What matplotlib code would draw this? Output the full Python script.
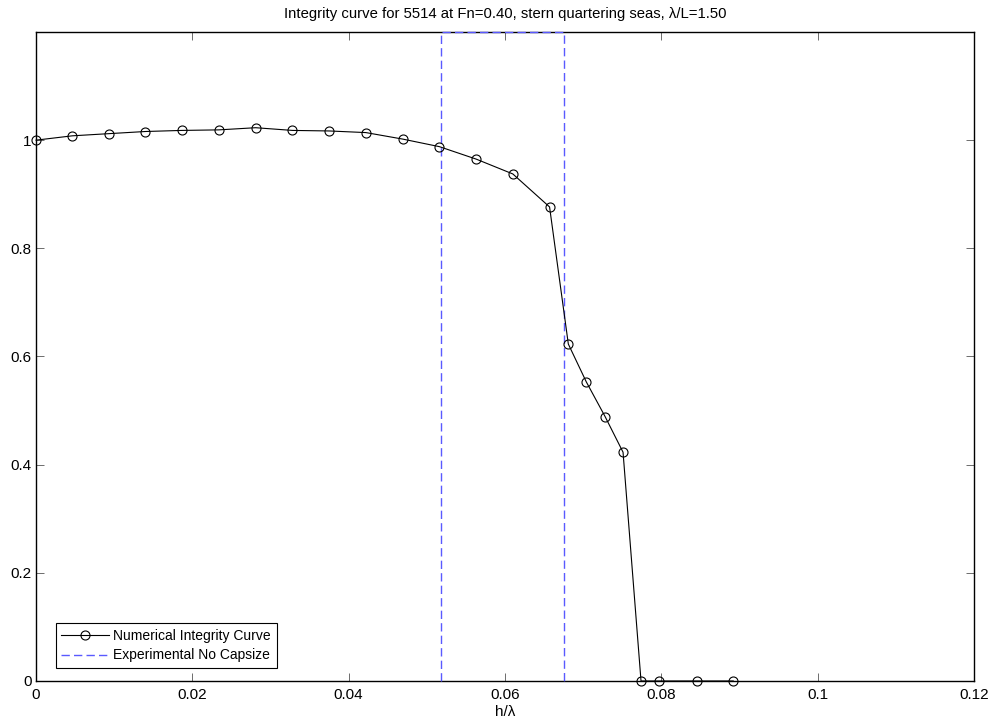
from matplotlib import pyplot as plt
import numpy as np

plt.rcParams['font.family'] = ['Liberation Sans', 'DejaVu Sans']

# numerical integrity curve
h_lambda = [0.0, 0.00464, 0.0093, 0.0140, 0.01868, 0.02337, 0.0281, 0.0328,
            0.0375, 0.0422, 0.0469, 0.0516, 0.0563, 0.0610, 0.0657, 0.0681,
            0.0704, 0.0728, 0.0751, 0.0774, 0.0797, 0.0845, 0.0892]
integrity = [1.0, 1.008, 1.012, 1.016, 1.018, 1.019, 1.023, 1.018,
             1.017, 1.014, 1.002, 0.988, 0.965, 0.9375, 0.8765, 0.623,
             0.553, 0.489, 0.423, 0.0, 0.0, 0.0, 0.0]

# experimental no-capsize band
exp_x = [0.0518, 0.0518, 0.0675, 0.0675]
exp_y = [0.0, 1.2, 1.2, 0.0]

xticks = [0, 0.02, 0.04, 0.06, 0.08, 0.1, 0.12]
xticklabels = ['0', '0.02', '0.04', '0.06', '0.08', '0.1', '0.12']
yticks = [0, 0.2, 0.4, 0.6, 0.8, 1.0]
yticklabels = ['0', '0.2', '0.4', '0.6', '0.8', '1']

fig = plt.figure(figsize=(9.95, 7.27), dpi=100)
ax = fig.add_axes([0.0362, 0.0633, 0.9427, 0.8927])

ax.plot(h_lambda, integrity, color='black', linewidth=0.8, marker='o',
        markersize=6.5, markerfacecolor='none', markeredgewidth=0.8,
        clip_on=False, zorder=4, label='Numerical Integrity Curve')
ax.plot(exp_x, exp_y, color='#5a5aff', linewidth=1.0, dashes=(6, 3),
        clip_on=False, zorder=3, label='Experimental No Capsize')

ax.set_xlim(0, 0.12)
ax.set_ylim(0, 1.2)
ax.set_xticks(xticks)
ax.set_xticklabels(xticklabels)
ax.set_yticks(yticks)
ax.set_yticklabels(yticklabels)
ax.tick_params(direction='in', length=6, width=0.6, color='#555555',
               top=True, right=True, labelsize=11)
ax.tick_params(axis='x', pad=5)
ax.tick_params(axis='y', pad=3)
for s in ax.spines.values():
    s.set_linewidth(1.0)

ax.set_xlabel('h/λ', fontsize=11, labelpad=2)
ax.set_title('Integrity curve for 5514 at Fn=0.40, stern quartering seas, λ/L=1.50',
             fontsize=10.7, pad=10)

leg = ax.legend(loc='lower left', fontsize=10, fancybox=False, framealpha=1,
                edgecolor='black', borderpad=0.4, labelspacing=0.4,
                handlelength=3.45, handletextpad=0.3, borderaxespad=0,
                bbox_to_anchor=(0.021, 0.02))
leg.get_frame().set_linewidth(0.8)

plt.savefig('out.png', dpi=100)
